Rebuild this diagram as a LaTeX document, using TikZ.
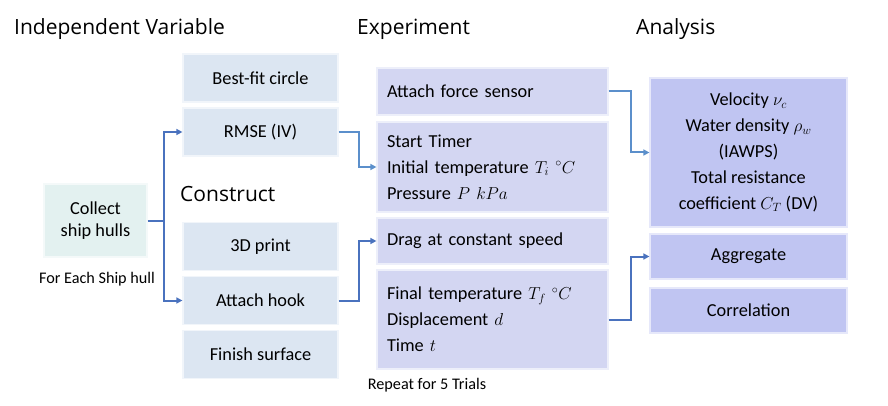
\documentclass[tikz,border=0pt]{standalone}
\usepackage{fontspec}
\setmainfont{Carlito}
\newfontfamily\headfont{Open Sans}
\usetikzlibrary{arrows.meta}
\definecolor{ivfill}{HTML}{DCE6F2}
\definecolor{colfill}{HTML}{E3F1F0}
\definecolor{exfill}{HTML}{D3D6F2}
\definecolor{anfill}{HTML}{C0C5F2}
\definecolor{arrA}{HTML}{4A72BE}
\definecolor{arrB}{HTML}{5B8FCB}
\begin{document}
\begin{tikzpicture}[x=1pt,y=-1pt,
  basebox/.style={line width=1.2pt, inner sep=0pt, font=\fontsize{18.3}{25.8}\selectfont},
  ivbox/.style={basebox, fill=ivfill, draw=ivfill!40!white, minimum width=155pt, minimum height=48pt},
  colbox/.style={basebox, fill=colfill, draw=colfill!40!white, minimum width=103pt, minimum height=73pt, align=center, font=\fontsize{18.3}{22.5}\selectfont},
  exbox/.style={basebox, fill=exfill, draw=exfill!40!white, minimum width=231pt, text width=211pt, align=left},
  anbox/.style={basebox, fill=anfill, draw=anfill!40!white, minimum width=197pt, align=center},
  heading/.style={anchor=base west, font=\headfont\fontsize{21}{25}\selectfont, inner sep=0pt},
  note/.style={font=\fontsize{16.2}{19}\selectfont, inner sep=0pt},
  arr/.style={line width=2pt, -{Triangle[length=6pt,width=6pt]}},
]
\path[use as bounding box, fill=white] (0,0) rectangle (888,406);

% headings
\node[heading] (hiv) at (14,35) {Independent Variable};
\node[heading] (hex) at (357,35) {Experiment};
\node[heading] (han) at (636,35) {Analysis};
\node[heading] (hcon) at (180,201.5) {Construct};

% left column
\node[colbox] (collect) at (95.5,220.5) {Collect\\ship hulls};
\node[note] (each) at (97,279) {For Each Ship hull};

\node[ivbox] (bfc) at (260.5,78) {Best-fit circle};
\node[ivbox] (rmse) at (260.5,132) {RMSE (IV)};
\node[ivbox] (print) at (260.5,246.5) {3D print};
\node[ivbox] (hook) at (260.5,300.5) {Attach hook};
\node[ivbox] (finish) at (260.5,354.5) {Finish surface};

% experiment column
\node[exbox, minimum height=47pt] (force) at (492.5,91.5) {Attach force sensor};
\node[exbox, minimum height=90pt] (start) at (492.5,167) {Start Timer\\Initial temperature $T_i\ {}^{\circ}C$\\Pressure $P\ kPa$};
\node[exbox, minimum height=46pt] (drag) at (492.5,241) {Drag at constant speed};
\node[exbox, minimum height=99pt] (final) at (492.5,319.5) {Final temperature $T_f\ {}^{\circ}C$\\Displacement $d$\\Time $t$};
\node[note] (repeat) at (427,385) {Repeat for 5 Trials};

% analysis column
\node[anbox, minimum height=149pt] (big) at (748.5,152.5) {Velocity $\nu_c$\\Water density $\rho_w$\\(IAWPS)\\Total resistance\\coefficient $C_T$ (DV)};
\node[anbox, minimum height=45pt] (agg) at (748.5,256.5) {Aggregate};
\node[anbox, minimum height=45pt] (corr) at (748.5,310.5) {Correlation};

% connectors
\coordinate (br) at (164,220.5);
\draw[arr, arrA] (collect.east) -- (br) |- (rmse.west);
\draw[arr, arrA] (br) |- (hook.west);
\draw[arr, arrB] (rmse.east) -- ++(20,0) |- (start.west);
\draw[arr, arrA] (hook.east) -- ++(20,0) |- (drag.west);
\draw[arr, arrB] (force.east) -- ++(22,0) |- (big.west);
\draw[arr, arrA] (final.east) -- ++(22,0) |- (agg.west);
\end{tikzpicture}
\end{document}
